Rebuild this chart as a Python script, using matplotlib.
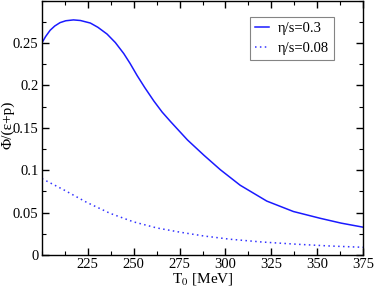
import numpy as np
import matplotlib
matplotlib.use('Agg')
import matplotlib.pyplot as plt
from matplotlib.ticker import MultipleLocator

# eta/s = 0.3
t_03 = [200, 202, 204.5, 207, 209.9, 213, 217.2, 221, 226.4, 230.5, 235.5, 240, 244.6, 248,
        251.9, 256, 261, 265.5, 270.2, 279.3, 288.3, 297.2, 308, 322.5, 337, 351.6, 363, 375]
phi_03 = [0.250, 0.2575, 0.265, 0.270, 0.274, 0.2762, 0.2772, 0.2765, 0.2735, 0.2685, 0.2605,
          0.2505, 0.2375, 0.226, 0.2115, 0.1975, 0.1815, 0.1685, 0.157, 0.1356, 0.1175,
          0.1005, 0.0822, 0.0635, 0.0512, 0.0432, 0.0375, 0.0327]

# eta/s = 0.08
t_008 = [200, 211.7, 224.4, 237.2, 249.9, 262.6, 275.3, 288, 302.5, 320, 338.8, 357, 375]
phi_008 = [0.090, 0.077, 0.062, 0.049, 0.039, 0.0318, 0.0268, 0.0224, 0.0185, 0.0152, 0.0126,
           0.0105, 0.009]

plt.rcParams['font.family'] = ['Liberation Serif', 'DejaVu Serif']
plt.rcParams['mathtext.fontset'] = 'stix'

fig = plt.figure(figsize=(3.74, 2.91), dpi=100)
ax = fig.add_axes([0.112, 0.124, 0.859, 0.874])

ax.plot(t_03, phi_03, color='#1a1aff', lw=1.1, label='η/s=0.3')
ax.plot(t_008, phi_008, color='#3333ff', lw=1.1, ls=(0, (1, 2.2)), label='η/s=0.08')

ax.set_xlim(200, 375)
ax.set_ylim(0, 0.3)
ax.set_xticks([225, 250, 275, 300, 325, 350, 375])
ax.set_yticks([0, 0.05, 0.1, 0.15, 0.2, 0.25])
ax.set_yticklabels(['0', '0.05', '0.1', '0.15', '0.2', '0.25'])
ax.xaxis.set_minor_locator(MultipleLocator(12.5))
ax.yaxis.set_minor_locator(MultipleLocator(0.025))
ax.tick_params(which='both', direction='in', top=True, right=True, labelsize=10.5, pad=2.5)
ax.tick_params(which='major', length=5, width=1)
ax.tick_params(which='minor', length=3, width=0.8)
for s in ax.spines.values():
    s.set_linewidth(1)

ax.set_xlabel('T$_0$ [MeV]', fontsize=11, labelpad=0)
ax.set_ylabel('Φ/(ε+p)', fontsize=11)
ax.yaxis.set_label_coords(-0.085, 0.51)

leg = ax.legend(loc='upper right', bbox_to_anchor=(0.91, 0.935), fontsize=10.5,
                frameon=True, fancybox=False, handlelength=1.0, handletextpad=0.6,
                borderpad=0.35, labelspacing=0.45, borderaxespad=0)
leg.get_frame().set_edgecolor('#666666')
leg.get_frame().set_linewidth(0.8)

fig.savefig('out.png', dpi=100)
